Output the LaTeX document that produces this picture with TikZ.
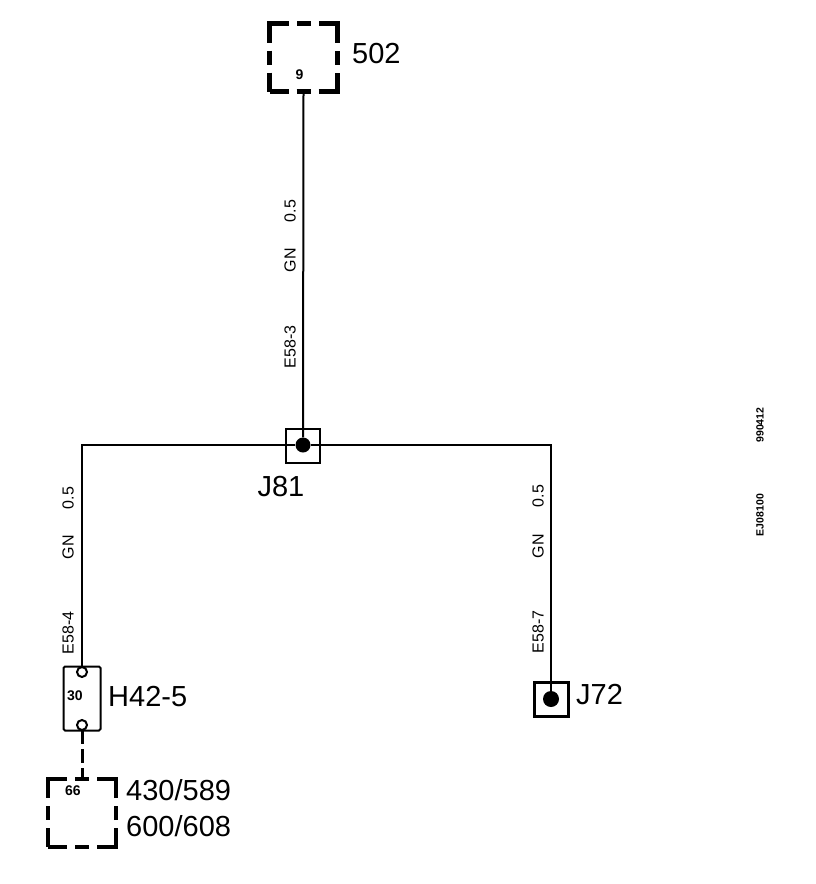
\documentclass[tikz,border=0pt]{standalone}
\usepackage{fontspec}
\setmainfont{Liberation Sans}
\usetikzlibrary{positioning}

\begin{document}
\begin{tikzpicture}[
x=1pt,y=-1pt,
conn/.style={
  draw,
  minimum size=68pt,
  inner sep=0pt,
  line width=4.5pt,
  dash pattern=on 38pt off 8pt on 14pt off 8pt,
  dash phase=19pt
},
splice/.style={
  draw,
  minimum size=34pt,
  inner sep=0pt,
  line width=2pt
},
dot/.style={
  fill,
  circle,
  inner sep=0pt,
  minimum size=15pt
},
pin/.style={
  draw,
  fill=white,
  circle,
  inner sep=0pt,
  minimum size=10pt,
  line width=2pt
},
big/.style={
  inner sep=0pt,
  font=\fontsize{29}{29}\selectfont
},
small/.style={
  inner sep=0pt,
  font=\fontsize{14}{14}\selectfont\bfseries
},
wirelab/.style={
  inner sep=0pt,
  rotate=90,
  font=\fontsize{16}{16}\selectfont
},
stamp/.style={
  inner sep=0pt,
  rotate=90,
  font=\fontsize{10.5}{10.5}\selectfont\bfseries
},
wire/.style={
  line width=2pt
}
]
\useasboundingbox (0,0) rectangle (816,884);

\node[conn] at (303.5,57.5) (c502) {};
\node[big,anchor=west] at (352,54) (l502) {502};
\node[small] at (299.5,75) (p9) {9};

\node[splice] at (303,446) (j81) {};
\node[dot] at (303,445) (d81) {};
\node[big] at (281,487) (l81) {J81};

\node[draw,minimum width=37pt,minimum height=64pt,inner sep=0pt,
  line width=2pt,rounded corners=1.5pt] at (82,698.5) (h42) {};
\node[big,anchor=west] at (108,697) (lh42) {H42-5};
\node[pin] at (82,672) (h42a) {};
\node[pin] at (82,725) (h42b) {};
\node[small] at (75,696) (p30) {30};

\node[splice,line width=3.5pt] at (551.5,699.5) (j72) {};
\node[dot,minimum size=16pt] at (551,699) (d72) {};
\node[big,anchor=west] at (576,695) (l72) {J72};

\node[conn] at (82,813) (c430) {};
\node[small] at (73,791) (p66) {66};
\node[big,anchor=west] at (126,790) (l430) {430/589};
\node[big,anchor=west] at (126,826) (l600) {600/608};

\draw[wire] (c502.south) -- (d81);
\draw[wire] (d81) -| (h42a);
\draw[wire] (d81) -| (d72);
\draw[wire,line width=3pt,dash pattern=on 13pt off 5pt on 14pt off 5pt]
  (h42b.south) -- (c430.north);

% wire marks
\node[wirelab] at (290,211) (w1a) {0.5};
\node[wirelab] at (290,260) (w1b) {GN};
\node[wirelab] at (290,347) (w1c) {E58-3};
\node[wirelab] at (68,498) (w2a) {0.5};
\node[wirelab] at (68,547) (w2b) {GN};
\node[wirelab] at (68,633) (w2c) {E58-4};
\node[wirelab] at (538,496) (w3a) {0.5};
\node[wirelab] at (538,546) (w3b) {GN};
\node[wirelab] at (538,632) (w3c) {E58-7};

\node[stamp] at (760,425) (s1) {990412};
\node[stamp] at (760,515) (s2) {EJ08100};
\end{tikzpicture}
\end{document}
